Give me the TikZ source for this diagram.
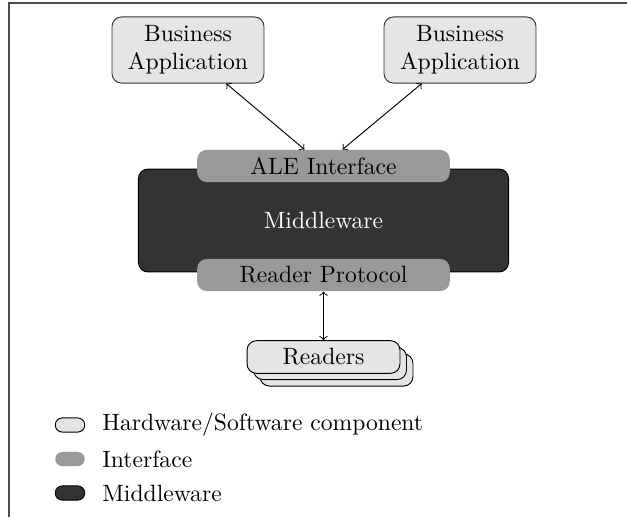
\documentclass[tikz,border=0pt]{standalone}
\usepackage{tikz}
\usetikzlibrary{calc}
\tikzset{
  component/.style={draw=black!80, fill=black!10, rounded corners=4pt, align=center},
  interface/.style={fill=black!40, rounded corners=4pt, minimum width=107pt, minimum height=13.6pt, inner sep=0pt},
  middleware/.style={draw=black, fill=black!80, text=white, rounded corners=4pt, minimum width=156.8pt, minimum height=43.6pt},
  legendmark/.style={rounded corners=3pt, minimum width=12.5pt, minimum height=6pt, inner sep=0pt},
}
\begin{document}
\begin{tikzpicture}[x=0.4237pt, y=-0.4237pt]
\useasboundingbox (0,0) rectangle (627,517);
\draw[black!70, line width=0.6pt] (627,3)--(9,3)--(9,517);
\node[component, minimum width=64.4pt, minimum height=28pt] (ba1) at (188,50) {Business\\Application};
\node[component, minimum width=64.4pt, minimum height=28pt] (ba2) at (460,50) {Business\\Application};
\node[middleware] (mw) at (323.5,220.5) {Middleware};
\node[interface] (ale) at (323.5,166) {ALE Interface};
\node[interface] (rp) at (323.5,275) {Reader Protocol};
\node[component, draw=black, minimum width=64.8pt, minimum height=13.6pt] (rd3) at (336.5,370) {};
\node[component, draw=black, minimum width=64.8pt, minimum height=13.6pt] (rd2) at (330,363.5) {};
\node[component, draw=black, minimum width=64.8pt, minimum height=13.6pt] (rd) at (323.5,357) {Readers};
\draw[<->] ($(ba1.south)!0.5!(ba1.south east)$)--($(ale.north)!0.15!(ale.north west)$);
\draw[<->] ($(ba2.south)!0.5!(ba2.south west)$)--($(ale.north)!0.15!(ale.north east)$);
\draw[<->] (rp.south)--(rd.north);
\node[legendmark, draw=black, fill=black!10] (lg1) at (70,425) {};
\node[anchor=west] (lt1) at (94,425) {Hardware/Software component};
\node[legendmark, fill=black!40] (lg2) at (70,459) {};
\node[anchor=west] (lt2) at (94,459) {Interface};
\node[legendmark, draw=black, fill=black!80] (lg3) at (70,493) {};
\node[anchor=west] (lt3) at (94,493) {Middleware};
\end{tikzpicture}
\end{document}
